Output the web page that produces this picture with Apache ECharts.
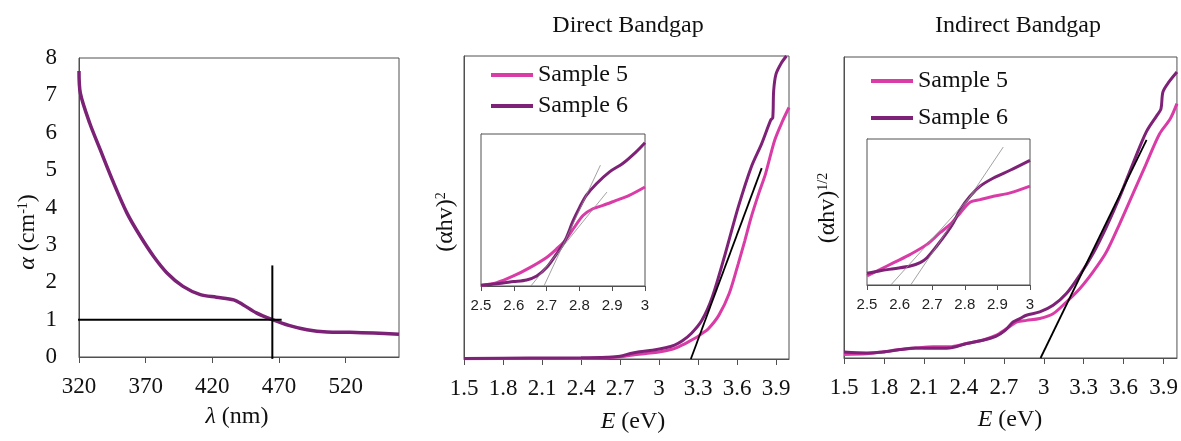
<!DOCTYPE html>
<html>
<head>
<meta charset="utf-8">
<style>
  html, body { margin: 0; padding: 0; background: #ffffff; }
  #chart { width: 1181px; height: 441px; }
</style>
<script src="https://cdn.jsdelivr.net/npm/echarts@6/dist/echarts.min.js"></script>
</head>
<body>
<div id="chart"></div>
<script>
// ---- Absorption spectrum: alpha vs wavelength ----
const lambdaNm = [320, 321, 328, 336, 345, 356, 366, 376, 386, 398, 411, 423, 436, 443, 453, 465, 478, 491, 506, 523, 541, 560];
const alphaAbs = [7.65, 7.06, 6.26, 5.54, 4.74, 3.85, 3.23, 2.69, 2.25, 1.89, 1.67, 1.60, 1.53, 1.40, 1.18, 1.00, 0.84, 0.73, 0.67, 0.66, 0.64, 0.61];
const cutoffLambda = 465;
const cutoffAlpha = 1;

// ---- Direct bandgap, (ahv)^2 vs E ----
const directE5 = [1.5, 2.0, 2.4, 2.6, 2.7, 2.8, 2.9, 3.0, 3.1, 3.15, 3.22, 3.28, 3.33, 3.38, 3.46, 3.54, 3.61, 3.66, 3.71, 3.77, 3.82, 3.89, 3.95, 4.0];
const directS5 = [0.1, 0.15, 0.2, 0.4, 0.7, 1.3, 1.8, 2.3, 3.2, 4.0, 5.5, 6.9, 8.4, 10.0, 14.4, 21.6, 31.5, 39.0, 46.9, 55.0, 61.2, 72.2, 78.5, 83.0];
const directE6 = [1.5, 2.0, 2.4, 2.6, 2.7, 2.78, 2.85, 2.95, 3.05, 3.12, 3.18, 3.25, 3.33, 3.41, 3.51, 3.61, 3.71, 3.79, 3.86, 3.875, 3.882, 3.9, 3.94, 3.98];
const directS6 = [0.2, 0.3, 0.4, 0.6, 0.9, 1.8, 2.4, 2.9, 3.7, 4.6, 6.0, 8.5, 12.8, 20.5, 34.8, 50.2, 63.4, 71.1, 78.9, 79.6, 88.5, 94.0, 97.6, 100];
const directFitE = [3.245, 3.79];
const directFitY = [0, 63];

// Direct bandgap inset (2.5 - 3 eV)
const dInsetE5 = [2.5, 2.548, 2.599, 2.649, 2.7, 2.73, 2.756, 2.781, 2.811, 2.841, 2.872, 2.912, 2.952, 3.0];
const dInsetS5 = [0.3, 2.2, 6.6, 12.1, 18.8, 24.3, 29.8, 37.5, 46.4, 50.8, 53.0, 56.3, 59.6, 65.1];
const dInsetE6 = [2.5, 2.548, 2.599, 2.639, 2.67, 2.7, 2.73, 2.756, 2.781, 2.801, 2.821, 2.852, 2.892, 2.932, 2.973, 3.0];
const dInsetS6 = [0.5, 1.5, 2.9, 4.0, 6.6, 12.1, 21.0, 29.8, 43.0, 51.9, 59.6, 67.3, 75.1, 80.6, 88.3, 94.3];
const dInsetFitA = [[2.692, 0], [2.864, 79.5]];
const dInsetFitB = [[2.652, 0], [2.884, 61.8]];

// ---- Indirect bandgap, (ahv)^1/2 vs E ----
const indirectE5 = [1.5, 1.67, 1.79, 1.92, 2.04, 2.17, 2.29, 2.42, 2.54, 2.64, 2.72, 2.80, 2.87, 2.97, 3.07, 3.17, 3.27, 3.37, 3.47, 3.57, 3.67, 3.77, 3.87, 3.95, 4.0];
const indirectS5 = [1.2, 1.4, 2.0, 2.8, 3.3, 3.7, 3.7, 4.8, 5.9, 7.5, 9.7, 12.0, 12.5, 13.1, 14.7, 18.6, 23.0, 28.6, 35.2, 44.6, 54.6, 64.6, 74.5, 79.5, 84.5];
const indirectE6 = [1.5, 1.67, 1.79, 1.92, 2.04, 2.17, 2.29, 2.42, 2.54, 2.64, 2.71, 2.77, 2.82, 2.87, 2.97, 3.07, 3.17, 3.27, 3.37, 3.47, 3.57, 3.67, 3.77, 3.85, 3.88, 3.895, 3.94, 4.0];
const indirectS6 = [2.0, 1.7, 2.0, 2.8, 3.3, 3.2, 3.3, 4.8, 5.9, 7.2, 9.2, 12.0, 13.1, 14.2, 15.3, 17.5, 21.4, 27.5, 34.7, 43.5, 53.5, 64.6, 75.1, 80.6, 82.8, 88.4, 91.7, 95.0];
const indirectFitE = [2.976, 3.772];
const indirectFitY = [0, 72.5];

// Indirect bandgap inset (2.5 - 3 eV)
const iInsetE5 = [2.5, 2.541, 2.582, 2.633, 2.684, 2.724, 2.755, 2.786, 2.816, 2.847, 2.888, 2.939, 3.0];
const iInsetS5 = [6.2, 10.7, 15.3, 21.0, 27.8, 35.8, 41.5, 49.4, 56.7, 58.5, 60.8, 63.1, 67.7];
const iInsetE6 = [2.5, 2.541, 2.582, 2.633, 2.663, 2.684, 2.714, 2.745, 2.765, 2.786, 2.816, 2.847, 2.888, 2.939, 3.0];
const iInsetS6 = [8.0, 9.8, 11.2, 13.0, 15.3, 18.7, 26.7, 35.8, 42.6, 51.7, 60.8, 67.7, 73.3, 78.6, 85.4];
const iInsetFitA = [[2.634, 0], [2.918, 94.5]];
const iInsetFitB = [[2.573, 0], [2.85, 68.7]];

// Tick labels
const lambdaTicks = ['320', '370', '420', '470', '520'];
const energyTicks = ['1.5', '1.8', '2.1', '2.4', '2.7', '3', '3.3', '3.6', '3.9'];
const insetTicks = ['2.5', '2.6', '2.7', '2.8', '2.9', '3'];

const PINK = '#d93ca6';
const PURPLE = '#7e2277';
const ABS = '#7b2176';
const FRAME = '#505050';
const SERIF = 'Liberation Serif';
const SANS = 'Liberation Sans';

const zip = (xs, ys) => xs.map((x, i) => [x, ys[i]]);

function mainX(gridIndex, min, max, interval, ticks) {
  return {
    type: 'value', gridIndex, min, max, interval,
    axisLine: { show: true, lineStyle: { color: FRAME, width: 1 } },
    axisTick: { show: true, inside: false, length: 6, lineStyle: { color: FRAME } },
    axisLabel: {
      show: true, margin: 18, showMaxLabel: false,
      fontFamily: SERIF, fontSize: 23, color: '#111',
      formatter: v => {
        const s = String(+v.toFixed(2));
        return ticks.indexOf(s) >= 0 ? s : '';
      }
    },
    splitLine: { show: false }
  };
}

function insetX(gridIndex) {
  return {
    type: 'value', gridIndex, min: 2.5, max: 3, interval: 0.1,
    axisLine: { show: true, lineStyle: { color: FRAME, width: 1 } },
    axisTick: { show: true, inside: false, length: 5, lineStyle: { color: FRAME } },
    axisLabel: {
      show: true, margin: 12, fontFamily: SANS, fontSize: 15, color: '#222',
      formatter: v => {
        const s = String(+v.toFixed(2));
        return insetTicks.indexOf(s) >= 0 ? s : '';
      }
    },
    splitLine: { show: false }
  };
}

function plainY(gridIndex, min, max) {
  return {
    type: 'value', gridIndex, min, max,
    axisLine: { show: true, lineStyle: { color: FRAME, width: 1 } },
    axisTick: { show: false }, axisLabel: { show: false }, splitLine: { show: false }
  };
}

function curve(name, xi, data, color, width, z) {
  return {
    type: 'line', name, xAxisIndex: xi, yAxisIndex: xi, data,
    showSymbol: false, symbol: 'none', smooth: 0.3,
    lineStyle: { color, width }, itemStyle: { color }, z: z || 2
  };
}

function segment(xi, data, color, width, z) {
  return {
    type: 'line', xAxisIndex: xi, yAxisIndex: xi, data,
    showSymbol: false, symbol: 'none', smooth: false, clip: false,
    lineStyle: { color, width }, z: z || 3, silent: true
  };
}

const gridBox = { show: true, borderColor: FRAME, borderWidth: 1, backgroundColor: 'transparent', containLabel: false };

const legendText = { fontFamily: SERIF, fontSize: 24, color: '#111' };

const option = {
  animation: false,
  backgroundColor: '#ffffff',
  grid: [
    Object.assign({ left: 79, top: 58, width: 320, height: 299 }, gridBox),
    Object.assign({ left: 464, top: 56, width: 325, height: 303 }, gridBox),
    Object.assign({ left: 844, top: 57, width: 334, height: 301 }, gridBox),
    Object.assign({ left: 481, top: 134, width: 164, height: 152, z: 5 }, gridBox, { backgroundColor: '#ffffff' }),
    Object.assign({ left: 867, top: 139, width: 163, height: 146, z: 5 }, gridBox, { backgroundColor: '#ffffff' })
  ],
  xAxis: [
    mainX(0, 320, 560, 50, lambdaTicks),
    mainX(1, 1.5, 4.0, 0.3, energyTicks),
    mainX(2, 1.5, 4.0, 0.3, energyTicks),
    insetX(3),
    insetX(4)
  ],
  yAxis: [
    {
      type: 'value', gridIndex: 0, min: 0, max: 8, interval: 1,
      axisLine: { show: true, lineStyle: { color: FRAME, width: 1 } },
      axisTick: { show: false },
      axisLabel: { show: true, margin: 22, fontFamily: SERIF, fontSize: 23, color: '#111' },
      splitLine: { show: false }
    },
    plainY(1, 0, 100),
    plainY(2, 0, 100),
    plainY(3, 0, 100),
    plainY(4, 0, 100)
  ],
  legend: [
    {
      left: 486, top: 58, orient: 'vertical', itemGap: 7, itemWidth: 42, itemHeight: 4,
      icon: 'rect', data: ['Sample 5', 'Sample 6'], textStyle: legendText
    },
    {
      left: 866, top: 64, orient: 'vertical', itemGap: 13, itemWidth: 42, itemHeight: 4,
      icon: 'rect', data: ['Sample 5', 'Sample 6'], textStyle: legendText
    }
  ],
  series: [
    // absorption curve with the 465 nm / alpha = 1 cutoff markers
    curve('alpha', 0, zip(lambdaNm, alphaAbs), ABS, 3.5),
    segment(0, [[318, cutoffAlpha], [472, cutoffAlpha]], '#000000', 2),
    segment(0, [[cutoffLambda, 2.45], [cutoffLambda, -0.05]], '#000000', 2),

    // direct bandgap
    curve('Sample 5', 1, zip(directE5, directS5), PINK, 3),
    curve('Sample 6', 1, zip(directE6, directS6), PURPLE, 3),
    segment(1, zip(directFitE, directFitY), '#000000', 1.8),

    // indirect bandgap
    curve('Sample 5', 2, zip(indirectE5, indirectS5), PINK, 3),
    curve('Sample 6', 2, zip(indirectE6, indirectS6), PURPLE, 3),
    segment(2, zip(indirectFitE, indirectFitY), '#000000', 1.8),

    // direct bandgap inset
    curve('Sample 5', 3, zip(dInsetE5, dInsetS5), PINK, 3, 6),
    curve('Sample 6', 3, zip(dInsetE6, dInsetS6), PURPLE, 3, 6),
    segment(3, dInsetFitA, '#8a8a8a', 0.8, 7),
    segment(3, dInsetFitB, '#8a8a8a', 0.8, 7),

    // indirect bandgap inset
    curve('Sample 5', 4, zip(iInsetE5, iInsetS5), PINK, 3, 6),
    curve('Sample 6', 4, zip(iInsetE6, iInsetS6), PURPLE, 3, 6),
    segment(4, iInsetFitA, '#8a8a8a', 0.8, 7),
    segment(4, iInsetFitB, '#8a8a8a', 0.8, 7)
  ],
  graphic: [
    { type: 'text', x: 628, y: 26, style: { text: 'Direct Bandgap', font: '24px "Liberation Serif"', fill: '#111', align: 'center', verticalAlign: 'middle' } },
    { type: 'text', x: 1018, y: 26, style: { text: 'Indirect Bandgap', font: '24px "Liberation Serif"', fill: '#111', align: 'center', verticalAlign: 'middle' } },
    {
      type: 'text', x: 237, y: 417,
      style: {
        text: '{i|λ} (nm)', align: 'center', verticalAlign: 'middle', fill: '#111',
        font: '24px "Liberation Serif"',
        rich: { i: { fontFamily: SERIF, fontSize: 24, fontStyle: 'italic', fill: '#111' } }
      }
    },
    {
      type: 'text', x: 633, y: 422,
      style: {
        text: '{i|E} (eV)', align: 'center', verticalAlign: 'middle', fill: '#111',
        font: '24px "Liberation Serif"',
        rich: { i: { fontFamily: SERIF, fontSize: 24, fontStyle: 'italic', fill: '#111' } }
      }
    },
    {
      type: 'text', x: 1010, y: 420,
      style: {
        text: '{i|E} (eV)', align: 'center', verticalAlign: 'middle', fill: '#111',
        font: '24px "Liberation Serif"',
        rich: { i: { fontFamily: SERIF, fontSize: 24, fontStyle: 'italic', fill: '#111' } }
      }
    },
    {
      type: 'text', x: 28, y: 232, rotation: Math.PI / 2,
      style: {
        text: '{i|α}{n| (cm}{s|-1}{n|)}', align: 'center', verticalAlign: 'middle', fill: '#111',
        font: '24px "Liberation Serif"',
        rich: {
          i: { fontFamily: SERIF, fontSize: 24, fontStyle: 'italic', fill: '#111' },
          n: { fontFamily: SERIF, fontSize: 24, fill: '#111' },
          s: { fontFamily: SERIF, fontSize: 14, fill: '#111', verticalAlign: 'top' }
        }
      }
    },
    {
      type: 'text', x: 446, y: 222, rotation: Math.PI / 2,
      style: {
        text: '{n|(αhv)}{s|2}', align: 'center', verticalAlign: 'middle', fill: '#111',
        font: '24px "Liberation Serif"',
        rich: {
          n: { fontFamily: SERIF, fontSize: 24, fill: '#111' },
          s: { fontFamily: SERIF, fontSize: 14, fill: '#111', verticalAlign: 'top' }
        }
      }
    },
    {
      type: 'text', x: 828, y: 208, rotation: Math.PI / 2,
      style: {
        text: '{n|(αhv)}{s|1/2}', align: 'center', verticalAlign: 'middle', fill: '#111',
        font: '24px "Liberation Serif"',
        rich: {
          n: { fontFamily: SERIF, fontSize: 24, fill: '#111' },
          s: { fontFamily: SERIF, fontSize: 14, fill: '#111', verticalAlign: 'top' }
        }
      }
    }
  ]
};

const chart = echarts.init(document.getElementById('chart'), null, { renderer: 'canvas' });
chart.setOption(option);
</script>
</body>
</html>
